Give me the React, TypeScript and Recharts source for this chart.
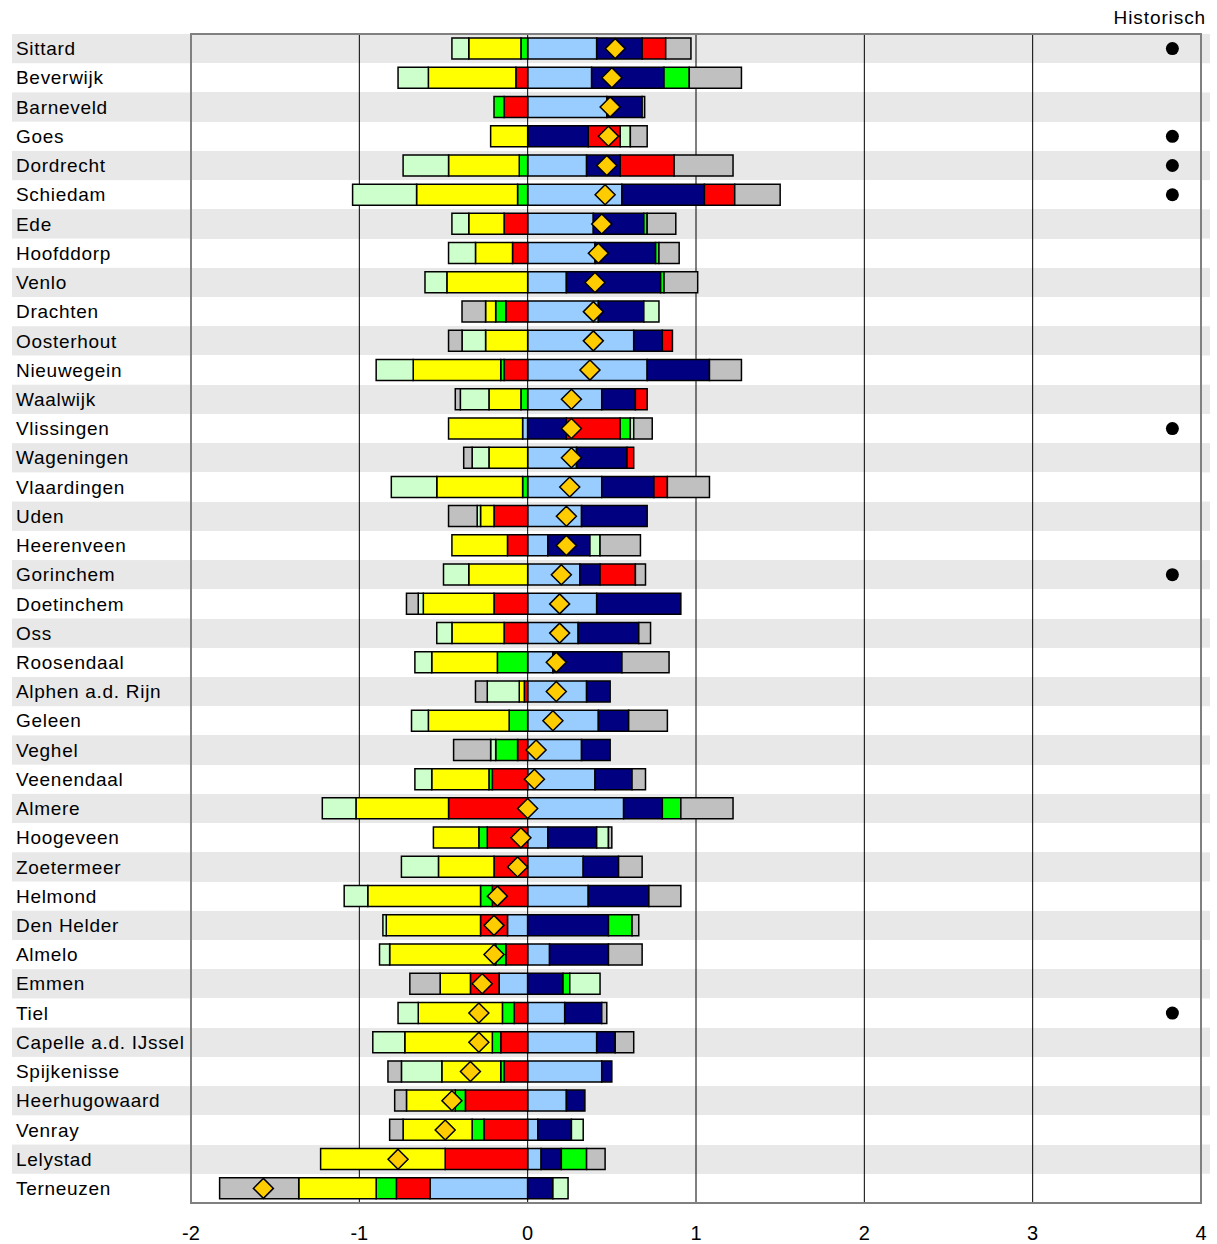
import { ComposedChart, Bar, Scatter, XAxis, YAxis, CartesianGrid, ReferenceArea } from "recharts"

const cities = [
  "Sittard", "Beverwijk", "Barneveld", "Goes", "Dordrecht", "Schiedam", "Ede", "Hoofddorp",
  "Venlo", "Drachten", "Oosterhout", "Nieuwegein", "Waalwijk", "Vlissingen", "Wageningen",
  "Vlaardingen", "Uden", "Heerenveen", "Gorinchem", "Doetinchem", "Oss", "Roosendaal",
  "Alphen a.d. Rijn", "Geleen", "Veghel", "Veenendaal", "Almere", "Hoogeveen", "Zoetermeer",
  "Helmond", "Den Helder", "Almelo", "Emmen", "Tiel", "Capelle a.d. IJssel", "Spijkenisse",
  "Heerhugowaard", "Venray", "Lelystad", "Terneuzen",
]

// stacked components, in stack order from 0 outward
const lightBlue = [0.41, 0.38, 0.47, 0, 0.35, 0.56, 0.39, 0.4, 0.23, 0.42, 0.63, 0.71, 0.44, -0.03, 0.29, 0.44, 0.32, 0.12, 0.31, 0.41, 0.3, 0.15, 0.35, 0.42, 0.32, 0.4, 0.57, 0.12, 0.33, 0.36, -0.12, 0.13, -0.17, 0.22, 0.41, 0.44, 0.23, 0.06, 0.08, -0.58]
const navy = [0.27, 0.43, 0.21, 0.36, 0.2, 0.49, 0.3, 0.36, 0.56, 0.27, 0.17, 0.37, 0.2, 0.23, 0.3, 0.31, 0.39, 0.25, 0.12, 0.5, 0.36, 0.41, 0.14, 0.18, 0.17, 0.22, 0.23, 0.29, 0.21, 0.36, 0.48, 0.35, 0.21, 0.22, 0.11, 0.06, 0.11, 0.2, 0.12, 0.15]
const red = [0.14, -0.07, -0.14, 0.19, 0.32, 0.18, -0.14, -0.09, 0, -0.13, 0.06, -0.14, 0.07, 0.32, 0.04, 0.08, -0.2, -0.12, 0.21, -0.2, -0.14, 0, -0.02, 0, -0.06, -0.21, -0.47, -0.24, -0.2, -0.21, -0.16, -0.13, -0.17, -0.08, -0.16, -0.14, -0.37, -0.26, -0.49, -0.2]
const green = [-0.04, 0.15, -0.06, 0, -0.05, -0.06, 0.02, 0.02, 0.02, -0.06, 0, -0.02, -0.04, 0.06, 0, -0.03, 0, 0, 0, 0, 0, -0.18, 0, -0.11, -0.13, -0.02, 0.11, -0.05, 0, -0.07, 0.14, -0.06, 0.04, -0.07, -0.05, -0.02, -0.06, -0.07, 0.15, -0.12]
const yellow = [-0.31, -0.52, 0, -0.22, -0.42, -0.6, -0.21, -0.22, -0.48, -0.06, -0.25, -0.52, -0.19, -0.44, -0.23, -0.51, -0.08, -0.33, -0.35, -0.42, -0.31, -0.39, -0.03, -0.48, 0, -0.34, -0.55, -0.27, -0.33, -0.67, -0.56, -0.63, -0.18, -0.5, -0.52, -0.35, -0.29, -0.41, -0.74, -0.46]
const lightGreen = [-0.1, -0.18, 0, 0.06, -0.27, -0.38, -0.1, -0.16, -0.13, 0.09, -0.14, -0.22, -0.17, 0.02, -0.1, -0.27, -0.02, 0.06, -0.15, -0.03, -0.09, -0.1, -0.19, -0.1, -0.03, -0.1, -0.2, 0.07, -0.22, -0.14, -0.02, -0.06, 0.18, -0.12, -0.19, -0.24, 0, 0.07, 0, 0.09]
const grey = [0.15, 0.31, 0.015, 0.1, 0.35, 0.27, 0.17, 0.12, 0.2, -0.14, -0.08, 0.19, -0.03, 0.11, -0.05, 0.25, -0.17, 0.24, 0.06, -0.07, 0.07, 0.28, -0.07, 0.23, -0.22, 0.08, 0.31, 0.02, 0.14, 0.19, 0.04, 0.2, -0.18, 0.03, 0.11, -0.08, -0.07, -0.08, 0.11, -0.47]

// diamond: overall score
const net = [0.52, 0.5, 0.49, 0.48, 0.47, 0.46, 0.44, 0.42, 0.4, 0.39, 0.39, 0.37, 0.26, 0.26, 0.26, 0.25, 0.23, 0.23, 0.2, 0.19, 0.19, 0.17, 0.17, 0.15, 0.05, 0.04, 0, -0.04, -0.06, -0.18, -0.2, -0.2, -0.27, -0.29, -0.29, -0.34, -0.45, -0.49, -0.77, -1.57]

const historisch = ["Sittard", "Goes", "Dordrecht", "Schiedam", "Vlissingen", "Gorinchem", "Tiel"]

const xTicks = [-2, -1, 0, 1, 2, 3, 4]

const CHART_W = 1217
const CHART_H = 1244
const MARGIN = { top: 34, right: 16, bottom: 0, left: 0 }
const Y_AXIS_W = 191
const X_AXIS_H = 41
const HIST_X = 3.83
const BAND = "#E8E8E8"
const FONT = '"Liberation Sans", Arial, sans-serif'

const data = cities.map((name, i) => ({
  name,
  lightBlue: lightBlue[i],
  navy: navy[i],
  red: red[i],
  green: green[i],
  yellow: yellow[i],
  lightGreen: lightGreen[i],
  grey: grey[i],
  net: net[i],
  hist: historisch.includes(name) ? HIST_X : null,
}))

const series = [
  { key: "lightBlue", color: "#99CCFF" },
  { key: "navy", color: "#000080" },
  { key: "red", color: "#FF0000" },
  { key: "green", color: "#00FF00" },
  { key: "yellow", color: "#FFFF00" },
  { key: "lightGreen", color: "#CCFFCC" },
  { key: "grey", color: "#C0C0C0" },
]

const plotH = CHART_H - MARGIN.top - X_AXIS_H
const rowH = plotH / cities.length

function stripeRows(args: any) {
  const top = args?.offset?.top ?? MARGIN.top
  const h = args?.offset?.height ?? plotH
  return cities.map((_, i) => Math.round(top + (i * h) / cities.length))
}

function CityTick(props: any) {
  const { y, payload } = props
  const i = cities.indexOf(payload.value)
  const shaded = i % 2 === 0
  return (
    <g>
      {shaded && <rect x={12} y={y - rowH / 2} width={Y_AXIS_W - 13} height={rowH} fill={BAND} />}
      {shaded && <rect x={CHART_W - MARGIN.right + 1} y={y - rowH / 2} width={8} height={rowH} fill={BAND} />}
      <text
        x={16}
        y={y}
        dy="0.35em"
        textAnchor="start"
        fontSize={19}
        letterSpacing={0.7}
        fill="#000"
        fontFamily={FONT}
      >
        {payload.value}
      </text>
    </g>
  )
}

function Diamond(props: any) {
  const { cx, cy } = props
  if (cx == null || cy == null) return <g />
  const r = 10
  return (
    <polygon
      points={`${cx},${cy - r} ${cx + r},${cy} ${cx},${cy + r} ${cx - r},${cy}`}
      fill="#FFCC00"
      stroke="#000"
      strokeWidth={1.5}
    />
  )
}

function HistDot(props: any) {
  if (props.payload?.hist == null || props.cx == null) return <g />
  return <circle cx={props.cx} cy={props.cy} r={6.5} fill="#000" />
}

export default function App() {
  return (
    <div style={{ position: "absolute", left: 0, top: 0, width: CHART_W, height: CHART_H, fontFamily: FONT, background: "#fff" }}>
      <div
        style={{
          position: "absolute",
          left: 0,
          top: 7,
          width: 1206,
          textAlign: "right",
          fontSize: 19,
          letterSpacing: 0.9,
          lineHeight: "22px",
          color: "#000",
        }}
      >
        Historisch
      </div>
      <ComposedChart
        width={CHART_W}
        height={CHART_H}
        data={data}
        layout="vertical"
        stackOffset="sign"
        margin={MARGIN}
        barCategoryGap={0}
      >
        <CartesianGrid
          vertical={false}
          stroke="none"
          horizontalFill={[BAND, "#FFFFFF"]}
          fillOpacity={1}
          horizontalCoordinatesGenerator={stripeRows}
        />
        <CartesianGrid horizontal={false} stroke="#000" strokeWidth={1} />
        <XAxis
          type="number"
          domain={[-2, 4]}
          ticks={xTicks}
          allowDataOverflow
          height={X_AXIS_H}
          tickLine={false}
          axisLine={false}
          tickSize={0}
          tickMargin={23}
          tick={{ fontSize: 20, fill: "#000", fontFamily: FONT }}
        />
        <YAxis
          type="category"
          dataKey="name"
          width={Y_AXIS_W}
          axisLine={false}
          tickLine={false}
          interval={0}
          allowDuplicatedCategory={false}
          tick={<CityTick />}
        />
        <ReferenceArea x1={-2} x2={4} fill="none" stroke="#808080" strokeWidth={2} />
        {series.map((s) => (
          <Bar
            key={s.key}
            dataKey={s.key}
            stackId="a"
            fill={s.color}
            stroke="#000"
            strokeWidth={1.5}
            barSize={21}
            isAnimationActive={false}
          />
        ))}
        <Scatter dataKey="net" shape={<Diamond />} isAnimationActive={false} />
        <Scatter dataKey="hist" shape={<HistDot />} isAnimationActive={false} />
      </ComposedChart>
    </div>
  )
}
